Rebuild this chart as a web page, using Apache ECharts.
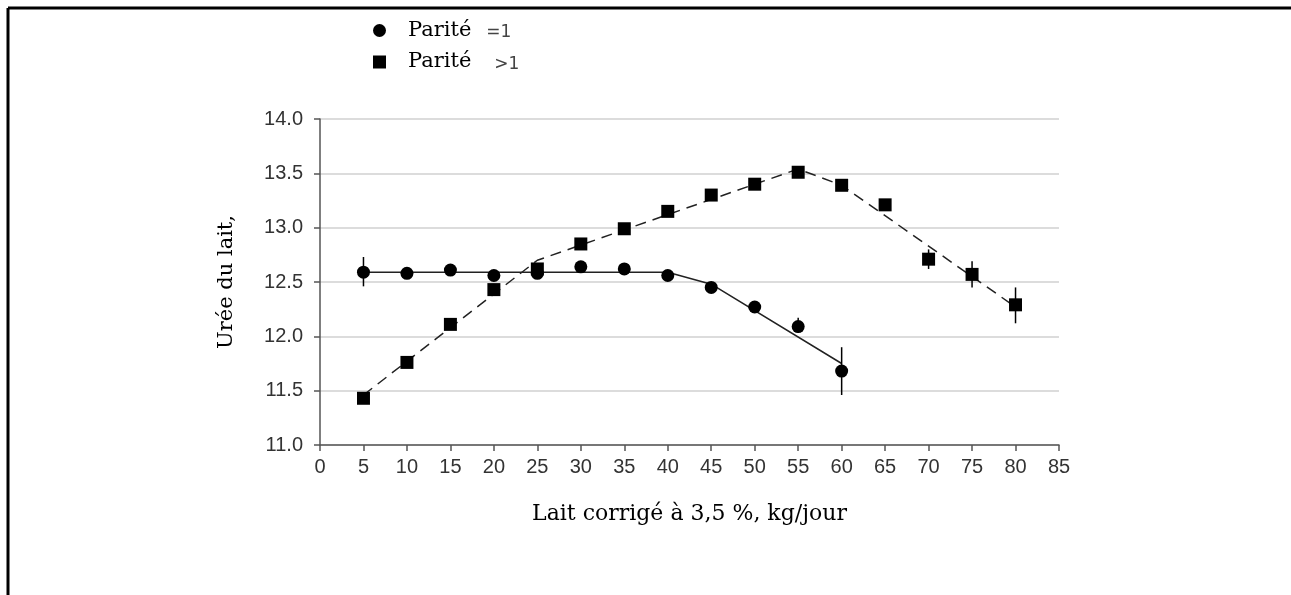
<!DOCTYPE html>
<html>
<head>
<meta charset="utf-8">
<script src="https://cdn.jsdelivr.net/npm/echarts@6/dist/echarts.min.js"></script>
<style>
html,body{margin:0;padding:0;background:#fff;}
#chart{width:1291px;height:595px;}
</style>
</head>
<body>
<div id="chart"></div>
<script>
// ---- data ----
const xTicks = [0,5,10,15,20,25,30,35,40,45,50,55,60,65,70,75,80,85];
const yTicks = [11.0,11.5,12.0,12.5,13.0,13.5,14.0];
const milk1 = [5,10,15,20,25,30,35,40,45,50,55,60];
const urea1 = [12.59,12.58,12.61,12.56,12.58,12.64,12.62,12.56,12.45,12.27,12.09,11.68];
const milk2 = [5,10,15,20,25,30,35,40,45,50,55,60,65,70,75,80];
const urea2 = [11.43,11.76,12.11,12.43,12.62,12.85,12.99,13.15,13.30,13.40,13.51,13.39,13.21,12.71,12.57,12.29];
// error bars: [x, low, high]
const err1 = [[5,12.46,12.73],[55,12.03,12.17],[60,11.46,11.90]];
const err2 = [[5,11.39,11.47],[65,13.16,13.26],[70,12.62,12.80],[75,12.45,12.69],[80,12.12,12.45]];
// fitted curves
const fit1X = [5,40,45,60];
const fit1Y = [12.59,12.59,12.48,11.75];
const fit2X = [5,25,55,60,80];
const fit2Y = [11.46,12.70,13.54,13.39,12.27];
const name1 = 'Parité =1';
const name2 = 'Parité >1';

const zip = (a,b) => a.map((v,i)=>[v,b[i]]);
const serif = 'DejaVu Serif';
const sans = 'Liberation Sans';

const chart = echarts.init(document.getElementById('chart'));

function errRender(params, api){
  const x = api.value(0);
  const p1 = api.coord([x, api.value(1)]);
  const p2 = api.coord([x, api.value(2)]);
  return {type:'line', shape:{x1:p1[0],y1:p1[1],x2:p2[0],y2:p2[1]}, style:{stroke:'#000', lineWidth:1.5}};
}

chart.setOption({
  animation:false,
  backgroundColor:'#fff',
  grid:{left:320, right:232, top:119, bottom:150},
  legend:{
    left:368, top:15, orient:'vertical', itemGap:10,
    itemWidth:13, itemHeight:13,
    data:[{name:name1, icon:'circle'},{name:name2, icon:'rect'}],
    formatter: n => {
      const p = n.split(' ');
      return '{a|' + p[0] + '}' + (p[1][0] === '=' ? '{b|' : '{c|') + p[1] + '}';
    },
    textStyle:{
      fontSize:21,
      rich:{
        a:{fontFamily:serif, fontSize:21, color:'#000', padding:[0,0,0,17]},
        b:{fontFamily:'DejaVu Sans', fontSize:17, color:'#444', padding:[5,0,0,15]},
        c:{fontFamily:'DejaVu Sans', fontSize:17, color:'#444', padding:[5,0,0,23]}
      }
    },
    itemStyle:{color:'#000', opacity:1}
  },
  xAxis:{
    type:'value', min:0, max:85, interval:5,
    name:'Lait corrigé à 3,5 %, kg/jour', nameLocation:'middle', nameGap:58,
    nameTextStyle:{fontFamily:serif, fontSize:22, color:'#000'},
    axisLine:{lineStyle:{color:'#555', width:1.5}},
    axisTick:{show:true, length:6, lineStyle:{color:'#555', width:1.5}},
    axisLabel:{fontFamily:sans, fontSize:20, color:'#333', margin:12,
      formatter: v => xTicks.includes(v) ? String(v) : ''},
    splitLine:{show:false}
  },
  yAxis:{
    type:'value', min:11, max:14, interval:0.5,
    name:'Urée du lait,', nameLocation:'middle', nameGap:83, nameRotate:90,
    nameTextStyle:{fontFamily:serif, fontSize:21, color:'#000'},
    axisLine:{show:true, lineStyle:{color:'#555', width:1.5}},
    axisTick:{show:true, length:6, lineStyle:{color:'#555', width:1.5}},
    axisLabel:{fontFamily:sans, fontSize:20, color:'#333', margin:17,
      formatter: v => yTicks.some(t=>Math.abs(t-v)<1e-6) ? v.toFixed(1) : ''},
    splitLine:{show:true, lineStyle:{color:'#d0d0d0', width:1.5}}
  },
  series:[
    {type:'line', name:'fit1', data:zip(fit1X,fit1Y), symbol:'none', silent:true,
     lineStyle:{color:'#222', width:1.5}, z:2},
    {type:'line', name:'fit2', data:zip(fit2X,fit2Y), symbol:'none', silent:true,
     lineStyle:{color:'#222', width:1.5, type:[11,7]}, z:2},
    {type:'custom', name:'err1', data:err1, renderItem:errRender, z:3},
    {type:'custom', name:'err2', data:err2, renderItem:errRender, z:3},
    {type:'scatter', name:name1, data:zip(milk1,urea1), symbol:'circle', symbolSize:13,
     itemStyle:{color:'#000', opacity:1}, z:4},
    {type:'scatter', name:name2, data:zip(milk2,urea2), symbol:'rect', symbolSize:13,
     itemStyle:{color:'#000', opacity:1}, z:4}
  ],
  graphic:[
    {type:'line', shape:{x1:8, y1:8, x2:1291, y2:8}, style:{stroke:'#000', lineWidth:3}},
    {type:'line', shape:{x1:8, y1:8, x2:8, y2:595}, style:{stroke:'#000', lineWidth:3}}
  ]
});
</script>
</body>
</html>
